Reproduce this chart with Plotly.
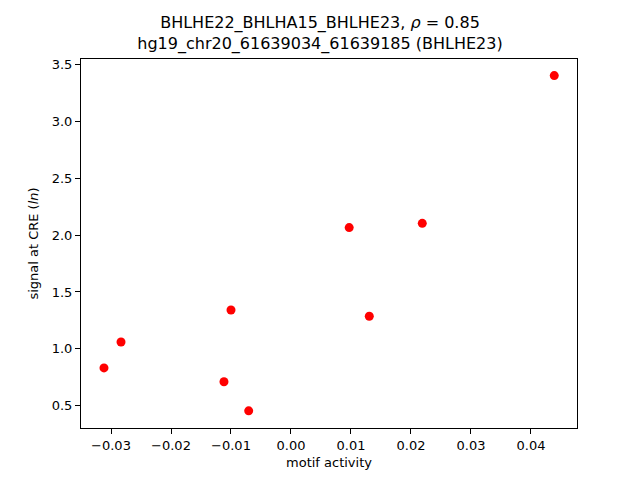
import plotly.graph_objects as go

motif_activity = [0.04388, 0.02188, 0.0097, 0.01305, -0.0100, -0.02833, -0.03117, -0.01117, -0.00705]
signal = [3.401, 2.103, 2.066, 1.287, 1.342, 1.061, 0.833, 0.711, 0.456]
x_ticks = [-0.03, -0.02, -0.01, 0.00, 0.01, 0.02, 0.03, 0.04]
x_tick_labels = ["\u22120.03", "\u22120.02", "\u22120.01", "0.00", "0.01", "0.02", "0.03", "0.04"]
y_ticks = [0.5, 1.0, 1.5, 2.0, 2.5, 3.0, 3.5]
y_tick_labels = ["0.5", "1.0", "1.5", "2.0", "2.5", "3.0", "3.5"]

font = "DejaVu Sans"

fig = go.Figure(go.Scatter(
    x=motif_activity, y=signal, mode="markers",
    marker=dict(color="#ff0000", size=9, line=dict(width=0)),
))

fig.update_layout(
    width=640, height=480,
    margin=dict(l=73, r=71, t=51, b=60, autoexpand=False),
    paper_bgcolor="white", plot_bgcolor="white",
    showlegend=False,
    font=dict(family=font, color="black", size=13),
    title=dict(
        text="BHLHE22_BHLHA15_BHLHE23, <i>\u03c1</i> = 0.85<br>hg19_chr20_61639034_61639185 (BHLHE23)",
        x=0.4875, xanchor="center", y=0.958, yanchor="top",
        font=dict(family=font, size=16, color="black"),
    ),
)
fig.update_xaxes(
    range=[-0.035, 0.04767], tickvals=x_ticks, ticktext=x_tick_labels,
    showgrid=False, zeroline=False, showline=True, linecolor="black", linewidth=1,
    mirror=True, ticks="outside", ticklen=5, tickwidth=1, tickcolor="black",
    tickfont=dict(size=13), title=dict(text="motif activity", font=dict(size=13), standoff=6),
)
fig.update_yaxes(
    range=[0.305, 3.547], tickvals=y_ticks, ticktext=y_tick_labels,
    showgrid=False, zeroline=False, showline=True, linecolor="black", linewidth=1,
    mirror=True, ticks="outside", ticklen=5, tickwidth=1, tickcolor="black",
    tickfont=dict(size=13), title=dict(text="signal at CRE (<i>ln</i>)", font=dict(size=13), standoff=10),
)

fig.write_html("out.html")
